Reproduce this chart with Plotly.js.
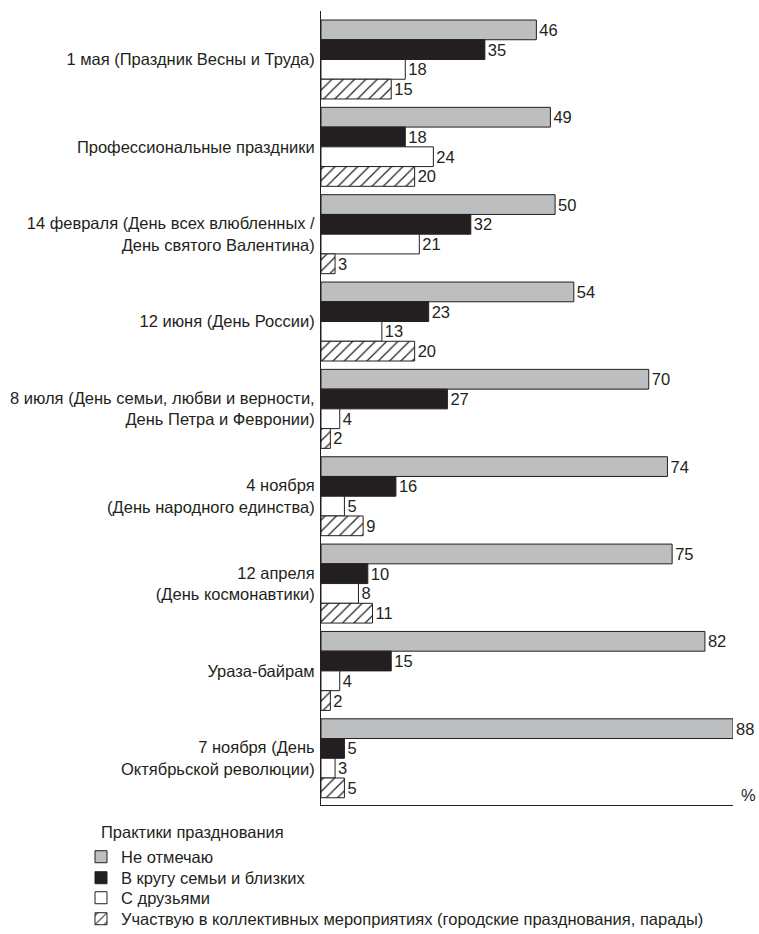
<!DOCTYPE html>
<html>
<head>
<meta charset="utf-8">
<script src="https://cdn.plot.ly/plotly-3.0.1.min.js"></script>
<style>
html,body{margin:0;padding:0;background:#fff;}
#chart{width:759px;height:934px;}
</style>
</head>
<body>
<div id="chart"></div>
<script>
const categories = [
  "1 мая (Праздник Весны и Труда)",
  "Профессиональные праздники",
  "14 февраля (День всех влюбленных /<br>День святого Валентина)",
  "12 июня (День России)",
  "8 июля (День семьи, любви и верности,<br>День Петра и Февронии)",
  "4 ноября<br>(День народного единства)",
  "12 апреля<br>(День космонавтики)",
  "Ураза-байрам",
  "7 ноября (День<br>Октябрьской революции)"
];
const seriesNames = [
  "Не отмечаю",
  "В кругу семьи и близких",
  "С друзьями",
  "Участвую в коллективных мероприятиях (городские празднования, парады)"
];
const notCelebrate = [46, 49, 50, 54, 70, 74, 75, 82, 88];
const withFamily   = [35, 18, 32, 23, 27, 16, 10, 15, 5];
const withFriends  = [18, 24, 21, 13, 4, 5, 8, 4, 3];
const collective   = [15, 20, 3, 20, 2, 9, 11, 2, 5];
const legendTitle = "Практики празднования";
const unitLabel = "%";

const FONT = '"Liberation Sans", Arial, sans-serif';
const FS = 16.5;
const INK = '#231f20';

const styles = [
  {color: '#bcbec0'},
  {color: INK},
  {color: '#ffffff'},
  {color: '#ffffff', pattern: {shape: '/', fgcolor: INK, bgcolor: '#ffffff', size: 8, solidity: 0.15}}
];
const values = [notCelebrate, withFamily, withFriends, collective];
const legendIds = ['legend', 'legend2', 'legend3', 'legend4'];

const traces = values.map((v, i) => ({
  type: 'bar',
  orientation: 'h',
  name: seriesNames[i],
  legend: legendIds[i],
  x: v,
  y: categories,
  text: v.map(String),
  textposition: 'outside',
  cliponaxis: false,
  constraintext: 'none',
  textfont: {family: FONT, size: FS, color: INK},
  marker: Object.assign({line: {color: INK, width: 1}}, styles[i]),
  hoverinfo: 'skip'
}));

// frame geometry (pixels in the 759x934 figure)
const plotTop = 11, plotBottom = 805, plotLeft = 321, plotRight = 733;
const ph = plotBottom - plotTop, pw = plotRight - plotLeft;
const rowPx = [857, 878, 898, 919];
const legendXpx = 81;

const layout = {
  width: 759,
  height: 934,
  margin: {l: plotLeft, r: 759 - plotRight, t: plotTop, b: 934 - plotBottom, autoexpand: false},
  paper_bgcolor: '#ffffff',
  plot_bgcolor: '#ffffff',
  font: {family: FONT, size: FS, color: INK},
  barmode: 'group',
  bargap: 0.096,
  bargroupgap: 0,
  showlegend: true,
  xaxis: {
    range: [0, 88],
    showgrid: false,
    zeroline: false,
    showticklabels: false,
    ticks: '',
    showline: true,
    linecolor: INK,
    linewidth: 1,
    fixedrange: true
  },
  yaxis: {
    type: 'category',
    range: [categories.length - 0.5 + 0.035, -0.555],
    showgrid: false,
    zeroline: false,
    ticks: '',
    showline: true,
    linecolor: INK,
    linewidth: 1,
    ticklabelstandoff: 2,
    tickfont: {family: FONT, size: FS, color: INK},
    fixedrange: true
  },
  annotations: [
    {
      text: unitLabel,
      xref: 'paper', yref: 'paper',
      x: 1.015, y: (plotBottom - 795) / ph,
      xanchor: 'left', yanchor: 'middle',
      showarrow: false,
      font: {family: FONT, size: FS, color: INK}
    },
    {
      text: legendTitle,
      xref: 'paper', yref: 'paper',
      x: (99 - plotLeft) / pw, y: (plotBottom - 832) / ph,
      xanchor: 'left', yanchor: 'middle',
      showarrow: false,
      font: {family: FONT, size: FS, color: INK}
    }
  ]
};

legendIds.forEach((id, i) => {
  layout[id] = {
    x: (legendXpx - plotLeft) / pw,
    xanchor: 'left',
    y: (plotBottom - rowPx[i]) / ph,
    yanchor: 'middle',
    orientation: 'v',
    font: {family: FONT, size: FS, color: INK},
    itemwidth: 30,
    bgcolor: 'rgba(0,0,0,0)',
    borderwidth: 0
  };
});

Plotly.newPlot('chart', traces, layout, {displayModeBar: false, staticPlot: true});
</script>
</body>
</html>
